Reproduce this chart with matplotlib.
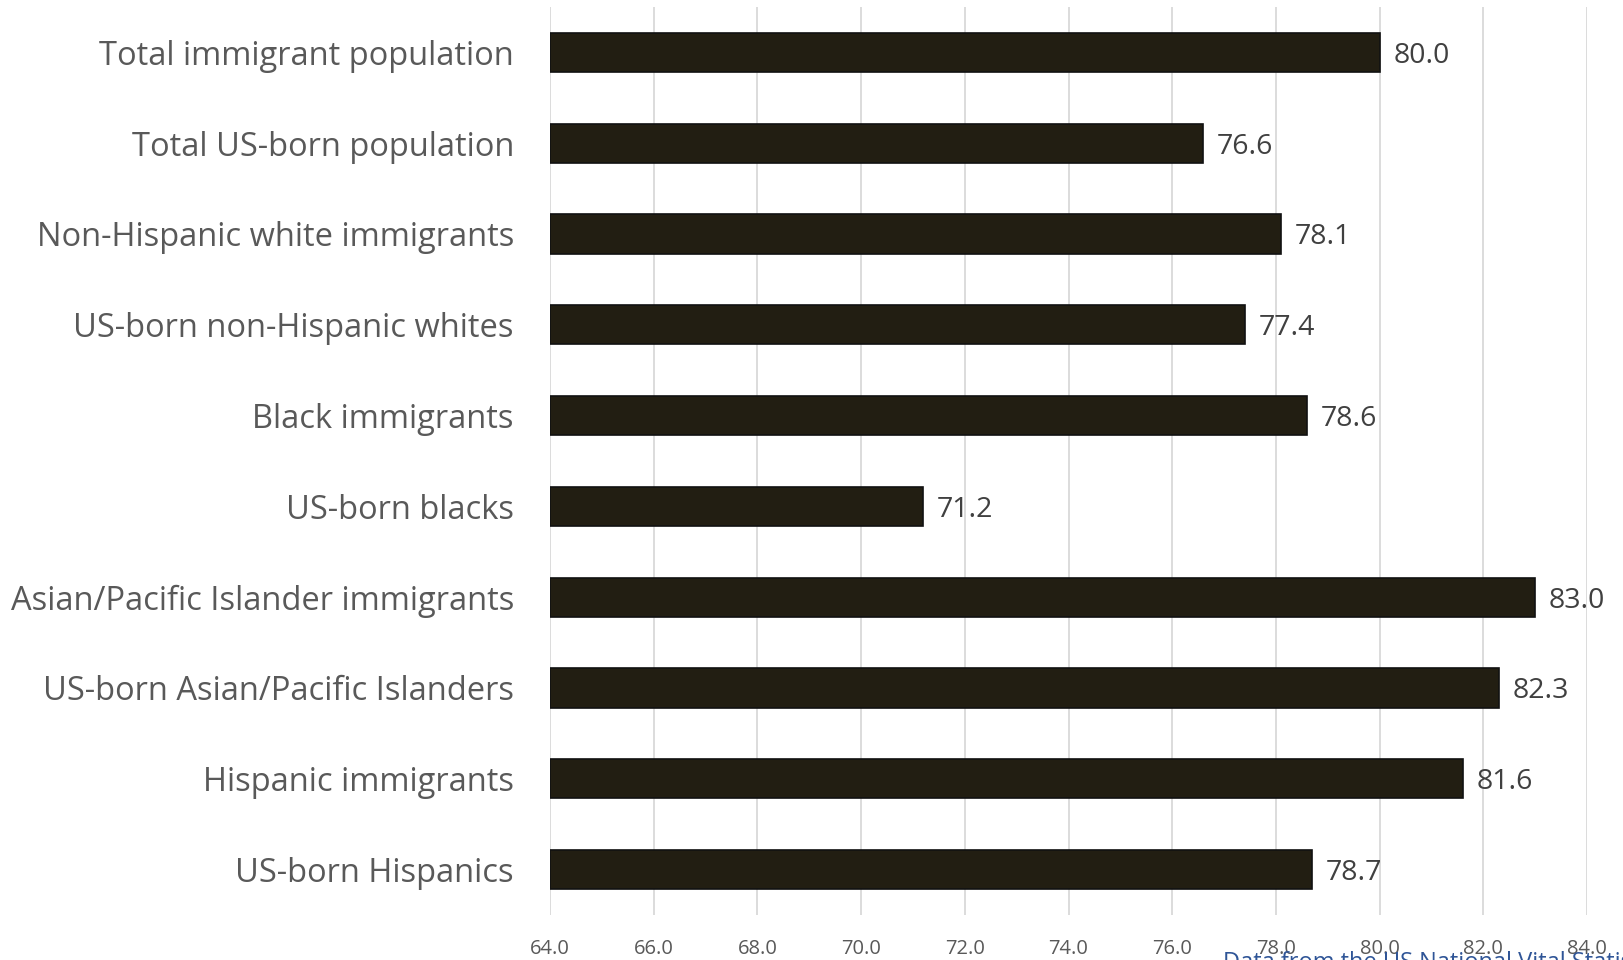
import matplotlib
matplotlib.use("Agg")
import matplotlib.pyplot as plt

# life expectancy at birth by group
categories = [
    "Total immigrant population",
    "Total US-born population",
    "Non-Hispanic white immigrants",
    "US-born non-Hispanic whites",
    "Black immigrants",
    "US-born blacks",
    "Asian/Pacific Islander immigrants",
    "US-born Asian/Pacific Islanders",
    "Hispanic immigrants",
    "US-born Hispanics",
]
values = [80.0, 76.6, 78.1, 77.4, 78.6, 71.2, 83.0, 82.3, 81.6, 78.7]
x_ticks = [64, 66, 68, 70, 72, 74, 76, 78, 80, 82, 84]

plt.rcParams['font.family'] = ['Open Sans', 'DejaVu Sans']
grey = '#595959'

fig = plt.figure(figsize=(16.23, 9.6), dpi=100)
ax = fig.add_axes([0.3389, 0.0469, 0.6389, 0.9458])

ypos = list(range(len(categories)))
ax.barh(ypos, [v - 64 for v in values], left=64, height=0.43,
        color='#221e12', edgecolor='#111111', linewidth=1.2, zorder=3)

for y, v in zip(ypos, values):
    ax.annotate(f"{v:.1f}", (v, y), xytext=(10, 0), textcoords='offset points',
                va='center_baseline', ha='left', fontsize=20.5, color='#404040')

ax.set_xlim(64, 84)
ax.set_ylim(len(categories) - 0.5, -0.5)
ax.set_xticks(x_ticks)
ax.set_xticklabels([f"{t:.1f}" for t in x_ticks])
ax.set_yticks(ypos)
ax.set_yticklabels(categories)
ax.tick_params(axis='x', length=0, pad=17, labelsize=14.5, labelcolor=grey)
ax.tick_params(axis='y', length=0, pad=26, labelsize=23.5, labelcolor=grey)
ax.grid(axis='x', color='#d9d9d9', linewidth=1.3, zorder=0)
for s in ax.spines.values():
    s.set_visible(False)

fig.text(1223 / 1623, 1 - 951 / 960, "Data from the US National Vital Statistics System",
         ha='left', va='top', fontsize=17, color='#2f5597')

fig.savefig("out.png", dpi=100)
